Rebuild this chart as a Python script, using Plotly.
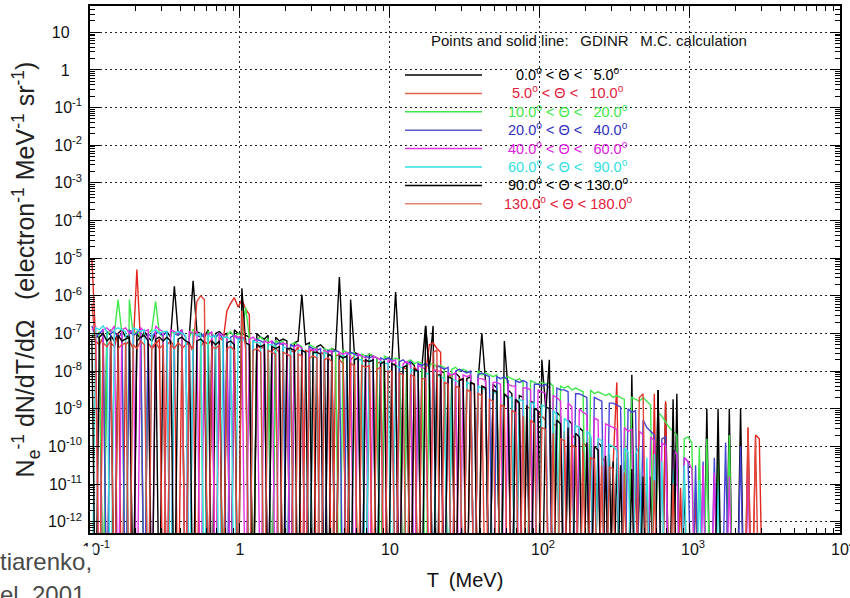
import numpy as np
import plotly.graph_objects as go

Z = None  # empty histogram bin (no counts) -> drawn down to the frame bottom

# Histogram binning: 40 log bins per decade starting at 0.1 MeV
N_BINS = 180
T_MEV = 10 ** (-1.0 + 0.025 * (np.arange(N_BINS) + 0.5))

# log10 of N_e^-1 dN/dT/dOmega per bin (Z = empty bin)
# each row = half a decade (20 bins)
S_00_05 = [
    -7.1, -7.0, -7.15, Z, -6.95, -7.05, -7.2, -7.0, -6.9, -7.1, -7.05, Z, -7.0, -7.15, -6.95, -7.1, -7.2, -7.0, Z, -7.05,
    -6.95, -7.1, -5.75, -7.0, -6.9, Z, -7.05, -5.6, -6.95, -7.0, -7.1, -6.9, Z, -7.0, -6.95, -7.05, -7.0, Z, -6.9, -7.0,
    -7.0, -7.05, -7.1, Z, -7.0, -7.1, -7.15, -7.05, Z, -7.1, -7.2, -7.15, -7.2, Z, -7.25, -7.2, -5.97, -7.3, -7.25, Z,
    -7.35, -7.3, -7.4, Z, -7.4, -7.45, -5.5, -7.5, Z, -6.1, -7.5, -7.55, -7.6, Z, -7.55, -7.6, -7.65, Z, -7.7, -7.65,
    -7.7, -5.9, -7.75, Z, -7.8, -7.75, -7.85, Z, -7.9, -6.8, -7.95, -6.8, Z, -8.0, -8.05, Z, -8.1, -8.05, -8.15, Z,
    -8.2, -8.15, Z, -8.25, -7.0, -8.3, Z, -8.35, -8.45, Z, -7.2, -8.5, -8.6, Z, -8.65, -8.7, Z, -8.8, -8.85, Z,
    -7.7, -8.95, -9.0, Z, -9.1, -9.2, Z, -9.3, -9.4, Z, -9.5, -9.6, Z, -9.75, Z, -9.9, -10.0, Z, -10.2, Z,
    -10.3, Z, -10.4, Z, -8.1, Z, -10.6, Z, Z, -10.8, Z, -8.5, Z, -8.85, Z, Z, -8.6, Z, -11.0, Z,
    Z, Z, Z, Z, -9.0, Z, Z, Z, Z, Z, -9.0, Z, Z, -9.0, Z, Z, Z, Z, Z, Z,
]
S_05_10 = [
    -5.0, -7.2, -7.3, -7.1, Z, -7.25, -7.35, -7.0, Z, -7.3, -7.2, -7.4, -5.3, -7.3, Z, -7.25, -7.4, -7.3, -7.15, Z,
    -7.3, -7.2, -7.35, Z, -7.4, -7.3, -7.25, -7.5, Z, -7.35, -7.2, -7.3, -7.15, Z, -7.1, -7.2, -6.4, -6.2, -6.05, -6.3,
    -6.1, -6.35, -6.5, Z, -7.3, -7.4, -7.35, Z, -7.45, -7.4, -7.5, Z, -7.4, -7.45, -7.5, -7.35, Z, -7.45, -7.5, -7.4,
    Z, -7.5, -7.55, -7.45, Z, -7.6, -7.55, -7.65, Z, -7.7, -7.6, Z, -7.7, -7.75, -7.7, Z, -7.8, -7.75, -7.8, Z,
    -7.85, -7.8, Z, -7.9, -7.95, Z, -7.9, -8.0, Z, -8.05, -7.3, -7.25, -7.4, -7.5, Z, -8.1, -8.15, Z, -8.2, -8.25,
    Z, -8.3, -8.35, Z, -8.4, -8.45, Z, -8.5, -8.6, Z, -8.65, -8.7, Z, -8.8, -8.85, Z, -8.95, -9.0, Z, -9.1,
    -9.2, -9.3, Z, -9.4, -9.45, Z, -9.6, Z, -9.7, -9.8, Z, -9.9, -10.0, Z, -10.1, Z, -10.3, -10.4, Z, -10.5,
    -8.3, Z, -10.6, Z, Z, -10.7, Z, Z, -10.9, Z, -8.6, Z, Z, -8.8, Z, Z, Z, -11.1, Z, Z,
    Z, -11.2, Z, Z, Z, Z, Z, Z, Z, Z, Z, Z, Z, Z, Z, -9.5, Z, -9.7, -9.8, Z,
]
S_10_20 = [
    -7.0, -7.1, -6.95, Z, -7.05, -6.9, -7.0, -6.1, -7.0, Z, -6.1, -7.05, -6.95, -7.1, Z, -7.0, -6.9, -6.15, -7.0, -7.1,
    Z, -7.0, -6.95, -7.05, -7.0, Z, -7.1, -6.9, -7.0, -7.05, Z, -6.95, -7.0, -7.1, -7.0, Z, -7.05, -6.95, -7.1, -7.0,
    -7.05, -6.3, -7.1, Z, -7.15, -7.1, -7.2, -7.15, Z, -7.2, -7.25, -7.2, Z, -7.3, -7.25, -7.3, -7.35, Z, -7.3, -7.35,
    -7.4, Z, -7.4, -7.45, -7.4, -7.5, Z, -7.45, -7.5, -7.55, -7.5, Z, -7.55, -7.6, -7.55, -7.6, -7.65, Z, -7.6, -7.65,
    -7.7, -7.65, -7.7, Z, -7.75, -7.7, -7.8, -7.75, -7.8, Z, -7.85, -7.8, -7.9, -7.85, -7.9, Z, -7.95, -7.9, -8.0, -7.95,
    -8.0, -8.05, Z, -8.0, -8.1, -8.05, -8.1, -8.15, -8.1, Z, -8.2, -8.15, -8.2, -8.25, -8.2, -8.3, Z, -8.25, -8.3, -8.35,
    -8.3, -8.35, -8.3, -8.4, Z, -8.4, -8.45, -8.4, -8.5, -8.45, -8.5, -8.55, Z, -8.5, -8.6, -8.55, -8.6, -8.65, -8.6, -8.7,
    -8.65, -8.7, -8.75, Z, -8.7, -8.75, -8.8, -8.7, -8.8, -8.9, Z, -9.1, -9.2, -9.35, -9.5, -9.6, -9.7, Z, -9.8, -9.75,
    -9.9, Z, -10.0, Z, -9.8, Z, Z, -10.1, Z, Z, -9.7, Z, Z, Z, Z, Z, Z, Z, Z, Z,
]
S_20_40 = [
    -6.8, -7.1, -7.0, -6.9, Z, -7.0, -6.95, -7.1, -7.0, Z, -6.9, -7.05, -7.0, -6.85, Z, -7.0, -7.1, -6.95, -7.0, -7.05,
    -6.95, Z, -7.0, -7.05, -6.95, -7.1, Z, -7.0, -7.05, -7.1, -7.0, Z, -7.05, -7.1, -7.0, -7.15, Z, -7.1, -7.05, -7.15,
    -7.1, -7.15, Z, -7.2, -7.15, -7.2, -7.25, Z, -7.2, -7.3, -7.25, -7.3, Z, -7.3, -7.35, -7.3, -7.4, Z, -7.35, -7.4,
    -7.45, -7.4, Z, -7.45, -7.5, -7.45, -7.5, Z, -7.55, -7.5, -7.55, -7.6, Z, -7.6, -7.65, -7.6, Z, -7.65, -7.7, -7.65,
    -7.7, Z, -7.75, -7.7, -7.8, -7.75, Z, -7.8, -7.85, -7.8, -7.9, Z, -7.85, -7.9, -7.95, -7.9, Z, -8.0, -7.95, -8.0,
    -8.05, -8.0, Z, -8.1, -8.05, -8.1, -8.15, Z, -8.15, -8.2, -8.15, -8.25, Z, -8.25, -8.3, -8.25, -8.3, Z, -8.35, -8.35,
    -8.4, -8.35, -8.45, Z, -8.45, -8.5, -8.5, -8.55, Z, -8.6, -8.6, -8.65, -8.7, Z, -8.7, -8.75, -8.8, Z, -8.85, -8.85,
    -8.9, -8.95, Z, -9.0, -9.1, -9.05, Z, -9.3, -9.5, -9.6, -9.7, Z, -9.8, -9.75, Z, -10.1, -10.2, Z, -10.3, -10.4,
    Z, -10.5, Z, -10.4, Z, Z, -10.3, Z, Z, -9.9, Z, Z, Z, -10.0, Z, -10.2, Z, Z, Z, Z,
]
S_40_60 = [
    -6.9, -6.8, Z, -6.9, -6.85, -6.95, -6.8, Z, -6.9, -6.85, -7.0, -6.9, Z, -6.85, -6.95, -6.9, Z, -6.8, -6.9, -6.95,
    Z, -6.9, -6.95, -7.0, -6.9, Z, -6.95, -7.0, -6.95, Z, -7.0, -7.05, -6.95, Z, -7.0, -7.05, -7.1, Z, -7.05, -7.1,
    -7.1, Z, -7.15, -7.1, -7.2, Z, -7.2, -7.25, -7.2, Z, -7.3, -7.25, -7.3, Z, -7.35, -7.3, -7.4, Z, -7.4, -7.45,
    -7.4, Z, -7.45, -7.5, -7.45, Z, -7.5, -7.55, -7.5, -7.6, Z, -7.55, -7.6, -7.65, Z, -7.6, -7.65, -7.7, Z, -7.7,
    -7.75, -7.7, Z, -7.8, -7.75, -7.85, Z, -7.85, -7.9, -7.95, Z, -7.95, -8.0, -8.0, Z, -8.05, -8.1, -8.05, Z, -8.1,
    -8.15, -8.1, Z, -8.2, -8.2, -8.25, Z, -8.3, -8.3, -8.35, Z, -8.35, -8.4, -8.4, Z, -8.45, -8.45, -8.5, Z, -8.5,
    -8.55, -8.6, Z, -8.65, -8.7, -8.8, Z, -8.85, -8.95, Z, -9.0, -9.1, -9.15, Z, -9.25, -9.3, Z, -9.4, -9.45, -9.5,
    -9.55, Z, -9.5, -9.6, -9.55, Z, -9.6, -9.7, Z, -9.75, -9.85, Z, -9.9, -10.0, Z, -10.1, -10.2, Z, -10.3, -10.4,
    -10.6, Z, Z, -10.5, Z, Z, -10.7, Z, Z, Z, -10.8, Z, Z, Z, Z, -10.6, Z, Z, Z, Z,
]
S_60_90 = [
    Z, -6.85, -6.9, -6.8, -6.95, Z, -6.9, -6.85, -6.9, -6.95, Z, -6.85, -6.9, -6.95, -6.9, Z, -6.95, -6.9, -7.0, -6.95,
    -6.95, Z, -7.0, -6.95, -7.0, -7.05, Z, -7.0, -7.05, -7.0, Z, -7.05, -7.1, -7.05, Z, -7.1, -7.1, -7.15, Z, -7.15,
    -7.2, -7.15, Z, -7.2, -7.25, -7.25, Z, -7.3, -7.3, -7.35, Z, -7.35, -7.4, -7.4, Z, -7.45, -7.45, -7.5, Z, -7.5,
    -7.55, Z, -7.5, -7.55, -7.6, Z, -7.6, -7.6, -7.65, Z, -7.65, -7.7, -7.7, Z, -7.7, -7.75, Z, -7.75, -7.8, -7.8,
    Z, -7.85, -7.9, -7.9, Z, -7.95, -8.0, -8.0, Z, -8.05, -8.1, Z, -8.1, -8.15, -8.2, Z, -8.2, -8.25, -8.3, Z,
    -8.3, -8.35, Z, -8.4, -8.45, -8.5, Z, -8.55, -8.6, Z, -8.65, -8.7, -8.7, Z, -8.75, -8.8, Z, -8.85, -8.85, Z,
    -8.9, -8.95, Z, -9.05, -9.15, Z, -9.25, -9.35, Z, -9.45, -9.5, Z, -9.6, -9.7, Z, -9.8, -9.85, Z, -9.95, -10.0,
    -10.1, Z, -10.05, -10.15, Z, -10.2, -10.0, Z, -10.3, Z, -10.2, Z, -10.4, Z, Z, -10.6, Z, Z, -10.5, Z,
    Z, Z, -10.9, Z, Z, Z, Z, -11.0, Z, Z, Z, Z, Z, Z, Z, Z, Z, Z, Z, Z,
]
S_90_130 = [
    -7.15, Z, -7.1, -7.0, -7.2, -7.1, Z, -7.05, -7.2, -7.15, -7.1, Z, -7.2, -7.1, -7.05, -7.2, Z, -7.15, -7.1, -7.2,
    -7.1, -7.2, Z, -7.15, -7.1, -7.2, -7.25, Z, -7.2, -7.15, -7.25, Z, -7.2, -7.3, -7.2, Z, -7.25, -7.2, -7.3, Z,
    -5.8, -7.25, -7.3, Z, -7.3, -7.35, -7.3, Z, -7.35, -7.4, -7.35, Z, -7.4, -7.4, -7.45, Z, -7.45, -7.5, Z, -7.5,
    -7.5, -7.55, Z, -7.55, -7.6, Z, -7.6, -7.65, -7.6, Z, -7.7, -7.65, Z, -7.7, -7.75, -7.7, Z, -7.8, -7.75, Z,
    -7.8, -7.85, Z, -7.9, -7.85, Z, -7.95, -8.0, Z, -6.8, -8.05, Z, -8.1, -8.1, Z, -8.15, -8.2, Z, -8.25, -8.2,
    Z, -8.3, -8.35, Z, -8.4, -8.45, Z, -8.5, -8.55, Z, -8.6, -8.7, Z, -8.75, -8.85, Z, -8.9, Z, -9.0, -9.05,
    Z, -9.15, -7.7, Z, -9.3, -9.4, Z, -9.5, Z, -9.65, -9.75, Z, -9.9, Z, -10.0, -10.1, Z, -10.25, Z, -10.4,
    Z, -10.5, Z, Z, -10.6, Z, Z, -10.8, Z, Z, Z, -8.5, Z, Z, Z, -8.75, Z, Z, Z, Z,
    Z, Z, Z, Z, Z, Z, Z, -9.0, Z, Z, Z, Z, Z, Z, Z, Z, Z, Z, Z, Z,
]
S_130_180 = [
    -6.2, -7.3, Z, -7.25, -7.35, -7.2, Z, -7.4, -7.3, -7.25, Z, -7.3, -7.4, -7.2, -7.3, Z, -7.35, -7.25, -7.4, -7.3,
    Z, -7.3, -7.4, -7.25, -7.35, Z, -7.3, -7.4, -6.15, -6.0, -6.1, Z, -7.35, -7.4, -7.3, Z, -7.4, -7.35, -7.45, Z,
    -6.4, -7.4, Z, -7.45, -7.4, -7.5, Z, -7.45, -7.5, -7.55, Z, -7.5, -7.55, -7.6, Z, -7.55, -7.6, Z, -7.65, -7.6,
    -7.65, Z, -7.7, -7.65, -7.75, Z, -7.7, -7.8, Z, -7.8, -7.85, Z, -7.85, -7.9, -7.85, Z, -7.95, -7.9, Z, -8.0,
    -8.0, Z, -8.05, -8.1, Z, -8.1, -8.15, Z, -8.2, -8.2, Z, -7.5, -7.45, Z, -8.3, -8.35, Z, -8.4, -8.45, Z,
    -8.5, -8.55, Z, -8.6, -8.65, Z, -8.75, -8.8, Z, -8.9, -8.95, Z, -9.05, -9.1, Z, -9.2, Z, -9.3, -9.4, Z,
    -9.5, -9.55, Z, -9.65, Z, -9.8, -9.85, Z, -9.95, -10.05, Z, -10.15, Z, -10.3, -10.35, Z, -10.5, Z, -10.55, -10.6,
    Z, Z, -10.7, Z, Z, Z, -8.7, -8.6, Z, Z, -10.9, Z, Z, Z, Z, -11.0, Z, Z, Z, Z,
    Z, Z, Z, Z, Z, Z, Z, Z, Z, Z, Z, Z, Z, Z, Z, -9.5, Z, -9.8, Z, Z,
]

SERIES = [S_00_05, S_05_10, S_10_20, S_20_40, S_40_60, S_60_90, S_90_130, S_130_180]
LEG_TEXT = [
    "0.0<sup>o</sup> &lt; Θ &lt;\u2002 5.0<sup>o</sup>",
    "5.0<sup>o</sup> &lt; Θ &lt;\u2002 10.0<sup>o</sup>",
    "10.0<sup>o</sup> &lt; Θ &lt;\u2002 20.0<sup>o</sup>",
    "20.0<sup>o</sup> &lt; Θ &lt;\u2002 40.0<sup>o</sup>",
    "40.0<sup>o</sup> &lt; Θ &lt;\u2002 60.0<sup>o</sup>",
    "60.0<sup>o</sup> &lt; Θ &lt;\u2002 90.0<sup>o</sup>",
    "90.0<sup>o</sup> &lt; Θ &lt; 130.0<sup>o</sup>",
    "130.0<sup>o</sup> &lt; Θ &lt; 180.0<sup>o</sup>",
]
LINE_COLORS = ["#000000", "#e3261f", "#3fe84a", "#4444d6", "#e233e2", "#35e0e0", "#000000", "#e2463a"]
LEG_LINE_COLORS = ["#000000", "#e2604e", "#3fe84a", "#5a5ad0", "#e233e2", "#35e0e0", "#000000", "#e2846f"]
TEXT_COLORS = ["#000000", "#e3203a", "#3fe84a", "#3030c0", "#e020e0", "#35e0e0", "#000000", "#e3203a"]

X_TICKS = [0.1, 1, 10, 100, 1000, 10000]
X_EXP = ["-1", "", "", "2", "3", "4"]
X_BASE = ["10", "1", "10", "10", "10", "10"]
Y_TICKS = [10.0 ** k for k in range(1, -13, -1)]
Y_EXP = [""] * 2 + [str(k) for k in range(-1, -13, -1)]
Y_BASE = ["10", "1"] + ["10"] * 12

FLOOR = 1e-15  # empty bins fall below the frame

W, H = 850, 598
ML, MR, MT, MB = 90, 10, 6, 65
PW, PH = W - ML - MR, H - MT - MB


def px(x):
    return (x - ML) / PW


def py(y):
    return (H - MB - y) / PH


# tick labels: base centred on the tick, exponent hanging to the right (ROOT style)
x_text = []
for b, e in zip(X_BASE, X_EXP):
    if e:
        pad = "\u2007" * len(e)
        x_text.append("<sup>%s</sup>%s<sup>%s</sup>" % (pad, b, e))
    else:
        x_text.append(b)
y_text = []
for b, e in zip(Y_BASE, Y_EXP):
    if e:
        y_text.append("%s<sup>%s</sup>" % (b, e))
    else:
        y_text.append("%s<sup>\u2007\u2007</sup>" % b)

fig = go.Figure()
for vals, col in zip(SERIES, LINE_COLORS):
    yv = [10.0 ** v if v is not None else FLOOR for v in vals]
    fig.add_trace(go.Scatter(x=T_MEV[:len(yv)], y=yv, mode="lines",
                             line=dict(color=col, width=1.4),
                             showlegend=False, hoverinfo="skip"))

FONT = "Liberation Sans, Arial, Helvetica, sans-serif"

# Legend (drawn inside the frame, transparent)
annotations = [dict(text="Points and solid line:\u2002 GDINR\u2002 M.C. calculation",
                    x=px(589), y=py(40), xref="paper", yref="paper",
                    xanchor="center", yanchor="middle",
                    showarrow=False, font=dict(size=15, color="#111", family=FONT))]
shapes = []
row0, drow = 75, 18.4
for i, (lab, lc, tc) in enumerate(zip(LEG_TEXT, LEG_LINE_COLORS, TEXT_COLORS)):
    yy = row0 + i * drow
    shapes.append(dict(type="line", xref="paper", yref="paper",
                       x0=px(405), x1=px(482), y0=py(yy), y1=py(yy),
                       line=dict(color=lc, width=1.5)))
    annotations.append(dict(text=lab, x=px(568), y=py(yy - 1), xref="paper", yref="paper",
                            showarrow=False, xanchor="center", yanchor="middle",
                            font=dict(size=14.5, color=tc, family=FONT)))

# overlaid slide text at bottom-left (partially cut off)
annotations.append(dict(text="tiarenko,", x=px(-2), y=py(561), xref="paper", yref="paper",
                        xanchor="left", yanchor="middle", showarrow=False, bgcolor="white",
                        font=dict(size=24, color="#4a4a4a", family=FONT)))
annotations.append(dict(text="el, 2001", x=px(-2), y=py(594), xref="paper", yref="paper",
                        xanchor="left", yanchor="middle", showarrow=False,
                        font=dict(size=24, color="#4a4a4a", family=FONT)))

fig.update_layout(
    width=W, height=H,
    margin=dict(l=ML, r=MR, t=MT, b=MB, autoexpand=False),
    paper_bgcolor="white", plot_bgcolor="white",
    font=dict(family=FONT, color="#111", size=16),
    annotations=annotations, shapes=shapes,
)
GRID = dict(showgrid=True, gridcolor="#222", gridwidth=1, griddash="2px,3px")
fig.update_xaxes(
    type="log", range=[-1, 4.0004], automargin=False,
    tickvals=X_TICKS, ticktext=x_text, ticklabeloverflow="allow",
    ticks="inside", ticklen=10, tickcolor="black",
    minor=dict(ticks="inside", ticklen=5, dtick="D1", tickcolor="black", showgrid=False),
    showline=True, linecolor="black", linewidth=1.5, mirror="ticks",
    zeroline=False, ticklabelstandoff=1,
    tickfont=dict(size=16, family=FONT),
    title=dict(text="T\u2002(MeV)", font=dict(size=20, family=FONT), standoff=16),
    **GRID,
)
fig.update_yaxes(
    type="log", range=[np.log10(5e-13), np.log10(50)], automargin=False,
    tickvals=Y_TICKS, ticktext=y_text, ticklabeloverflow="allow",
    ticks="inside", ticklen=10, tickcolor="black",
    minor=dict(ticks="inside", ticklen=5, dtick="D1", tickcolor="black", showgrid=False),
    showline=True, linecolor="black", linewidth=1.5, mirror="ticks",
    zeroline=False, ticklabelstandoff=3,
    tickfont=dict(size=16, family=FONT),
    title=dict(text="N<sub>e</sub><sup>-1</sup> dN/dT/dΩ\u2002 (electron<sup>-1</sup> MeV<sup>-1</sup> sr<sup>-1</sup>)",
               font=dict(size=25, family=FONT, color="#222"), standoff=6),
    **GRID,
)

fig.write_html("out.html")
